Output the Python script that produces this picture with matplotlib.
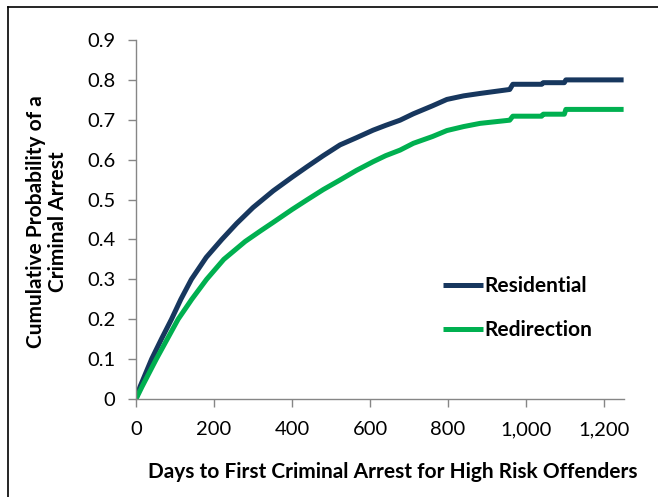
import matplotlib
matplotlib.use("Agg")
import matplotlib.pyplot as plt
from matplotlib.lines import Line2D
from matplotlib.ticker import FuncFormatter

# Data
res_days = [0, 10, 40, 65, 91, 115, 142, 180, 220, 258, 300, 352, 400, 438, 480, 523, 565,
            608, 640, 677, 711, 760, 797, 840, 882, 920, 958, 966, 1040, 1044, 1098, 1102, 1250]
res_vals = [0, 0.03, 0.10, 0.15, 0.20, 0.25, 0.30, 0.355, 0.40, 0.44, 0.48, 0.522, 0.556, 0.582,
            0.61, 0.637, 0.655, 0.674, 0.686, 0.699, 0.715, 0.735, 0.751, 0.76, 0.766, 0.771,
            0.776, 0.789, 0.789, 0.793, 0.793, 0.80, 0.80]

red_days = [0, 15, 52, 80, 108, 143, 181, 225, 280, 320, 352, 400, 438, 480, 523, 565, 608,
            640, 677, 711, 760, 797, 840, 882, 920, 958, 966, 1040, 1044, 1098, 1102, 1250]
red_vals = [0, 0.03, 0.10, 0.15, 0.20, 0.25, 0.30, 0.35, 0.395, 0.422, 0.443, 0.475, 0.499,
            0.525, 0.549, 0.573, 0.595, 0.61, 0.624, 0.641, 0.658, 0.673, 0.683, 0.691, 0.695,
            0.699, 0.709, 0.709, 0.714, 0.714, 0.726, 0.726]

series_names = ["Residential", "Redirection"]
x_ticks = [0, 200, 400, 600, 800, 1000, 1200]
y_ticks = [0, 0.1, 0.2, 0.3, 0.4, 0.5, 0.6, 0.7, 0.8, 0.9]
x_label = "Days to First Criminal Arrest for High Risk Offenders"
y_label = "Cumulative Probability of a\nCriminal Arrest"

plt.rcParams['font.family'] = ['Lato', 'DejaVu Sans']

W, H = 658, 497
fig = plt.figure(figsize=(W / 100, H / 100), dpi=100)
ax = fig.add_axes([136 / W, 1 - 399 / H, (624 - 136) / W, (399 - 40) / H])

ax.plot(res_days, res_vals, color="#17375E", lw=3.6, solid_capstyle="butt", label=series_names[0])
ax.plot(red_days, red_vals, color="#00B050", lw=3.6, solid_capstyle="butt", label=series_names[1])

ax.set_xlim(0, 1251)
ax.set_ylim(0, 0.9)
ax.set_xticks(x_ticks)
ax.set_yticks(y_ticks)
ax.xaxis.set_major_formatter(FuncFormatter(lambda v, p: f"{int(v):,}"))
ax.yaxis.set_major_formatter(FuncFormatter(lambda v, p: "0" if v == 0 else f"{v:.1f}"))

for s in ["top", "right"]:
    ax.spines[s].set_visible(False)
for s in ["left", "bottom"]:
    ax.spines[s].set_color("#868686")
    ax.spines[s].set_linewidth(1.0)
ax.tick_params(axis="both", colors="#868686", labelcolor="black", labelsize=14.5, length=6, width=1)
ax.tick_params(axis="x", pad=10)
ax.tick_params(axis="y", pad=9)

ax.set_xlabel(x_label, fontsize=15, fontweight="bold")
ax.xaxis.set_label_coords(0.527, -0.175)
ax.set_ylabel(y_label, fontsize=15, fontweight="bold", multialignment="center", linespacing=1.1)
ax.yaxis.set_label_coords(-0.14, 0.493)

leg = ax.legend(loc="upper left", bbox_to_anchor=(443 / W, 1 - 276 / H), bbox_transform=fig.transFigure,
                frameon=False, prop={"size": 15, "weight": "bold"}, handlelength=1.92,
                handletextpad=0.05, labelspacing=1.17, borderpad=0, borderaxespad=0)

# Border frame (cropped rectangle at top-left)
fig.add_artist(Line2D([8 / W, 8 / W], [0, 1 - 7 / H], transform=fig.transFigure, color="black", lw=1.2))
fig.add_artist(Line2D([8 / W, 1], [1 - 7 / H, 1 - 7 / H], transform=fig.transFigure, color="black", lw=1.2))

fig.savefig("out.png", dpi=100)
